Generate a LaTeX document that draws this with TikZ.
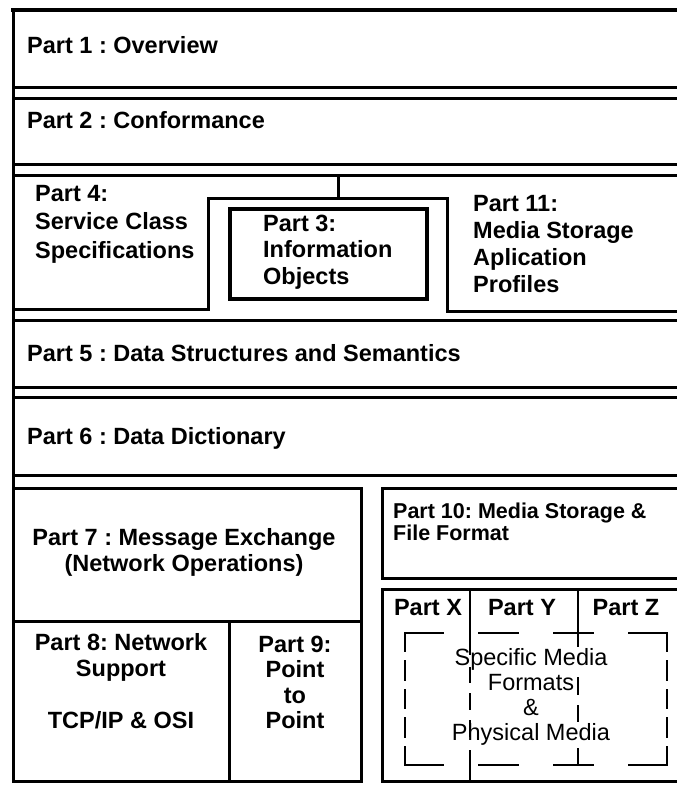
\documentclass[tikz,border=0pt]{standalone}
\usepackage{fontspec}
\setmainfont{Liberation Sans}
\frenchspacing
\begin{document}
\begin{tikzpicture}[x=1pt,y=-1pt,
  frame/.style={line width=3pt},
  heavy/.style={line width=4pt},
  divider/.style={line width=2pt},
  dashline/.style={line width=2.8pt, line cap=rect},
  lbl/.style={inner sep=0pt, font=\fontsize{23.5}{28}\selectfont\bfseries},
  plain/.style={inner sep=0pt, font=\fontsize{23.5}{25}\selectfont}]
\useasboundingbox (0,0) rectangle (677,785);
\fill[white] (0,0) rectangle (677,785);
\clip (0,0) rectangle (677,785);

% full-width layers
\draw[frame] (13,87) -- (700,87);
\draw[heavy] (11,10) -- (700,10);
\draw[frame] (13,98) -- (700,98);
\draw[frame] (13,164) -- (700,164);
\draw[frame] (13,175) -- (700,175);
\draw[frame] (13,320) -- (700,320);
\draw[frame] (13,387) -- (700,387);
\draw[frame] (13,397) -- (700,397);
\draw[frame] (13,475) -- (700,475);
\draw[frame] (13,10) -- (13,782);

% row with parts 4, 3 and 11
\coordinate (rowtop) at (338,175);
\coordinate (steptop) at (338,198);
\draw[frame] (rowtop) -- (steptop);
\draw[frame] (13,309) -- (208,309) -- (208,198) -- (447,198) -- (447,311) -- (700,311);
\draw[line width=3.5pt] (230,209) rectangle (427,299);

% lower left blocks
\draw[frame] (13,488) rectangle (361,621);
\draw[frame] (13,621) rectangle (229,781);
\draw[frame] (229,621) rectangle (361,781);

% lower right blocks
\draw[frame] (382,488) rectangle (700,578);
\draw[frame] (382,589) rectangle (700,781);

% column dividers for parts X, Y, Z
\draw[divider] (470,589) -- (470,655);
\foreach \a/\b in {667/683, 693/710, 720/737, 750/781}
  \draw[divider] (470,\a) -- (470,\b);
\draw[divider] (578,589) -- (578,647);
\foreach \a/\b in {677/695, 705/722, 748/765}
  \draw[divider] (578,\a) -- (578,\b);

% dashed media frame
\draw[dashline, dash pattern=on 38pt off 36.67pt] (405,633) -- (667,633);
\draw[dashline, dash pattern=on 38pt off 36.67pt] (405,765) -- (667,765);
\draw[dashline, dash pattern=on 18pt off 10.5pt] (405,633) -- (405,765);
\draw[dashline, dash pattern=on 18pt off 10.5pt] (667,633) -- (667,765);

% labels
\node[lbl, anchor=base west] (p1) at (27,53) {Part 1 : Overview};
\node[lbl, anchor=base west] (p2) at (27,128) {Part 2 : Conformance};
\node[lbl, anchor=west, align=left, font=\fontsize{23.5}{28.5}\selectfont\bfseries] (p4) at (35,224) {Part 4:\\Service Class\\Specifications};
\node[lbl, anchor=west, align=left, font=\fontsize{23.5}{26.5}\selectfont\bfseries] (p3) at (263,252) {Part 3:\\Information\\Objects};
\node[lbl, anchor=west, align=left, font=\fontsize{23.5}{27}\selectfont\bfseries] (p11) at (473,244) {Part 11:\\Media Storage\\Aplication\\Profiles};
\node[lbl, anchor=base west] (p5) at (27,361) {Part 5 : Data Structures and Semantics};
\node[lbl, anchor=base west] (p6) at (27,444) {Part 6 : Data Dictionary};
\node[lbl, align=center, font=\fontsize{23.5}{26}\selectfont\bfseries] (p7) at (184,552) {Part 7 : Message Exchange\\(Network Operations)};
\node[lbl, align=center, font=\fontsize{23.5}{26}\selectfont\bfseries] (p8) at (121,681.5) {Part 8: Network\\Support\\[26pt]TCP/IP \& OSI};
\node[lbl, align=center, font=\fontsize{23.5}{25.5}\selectfont\bfseries] (p9) at (295,682.5) {Part 9:\\Point\\to\\Point};
\node[lbl, anchor=west, align=left, font=\fontsize{21.5}{22}\selectfont\bfseries] (p10) at (393,521.5) {Part 10: Media Storage \&\\File Format};
\node[lbl] (px) at (428,608) {Part X};
\node[lbl] (py) at (522,608) {Part Y};
\node[lbl] (pz) at (626,608) {Part Z};
\node[plain, align=center] (media) at (531,697) {Specific Media\\Formats\\\&\\Physical Media};
\end{tikzpicture}
\end{document}
